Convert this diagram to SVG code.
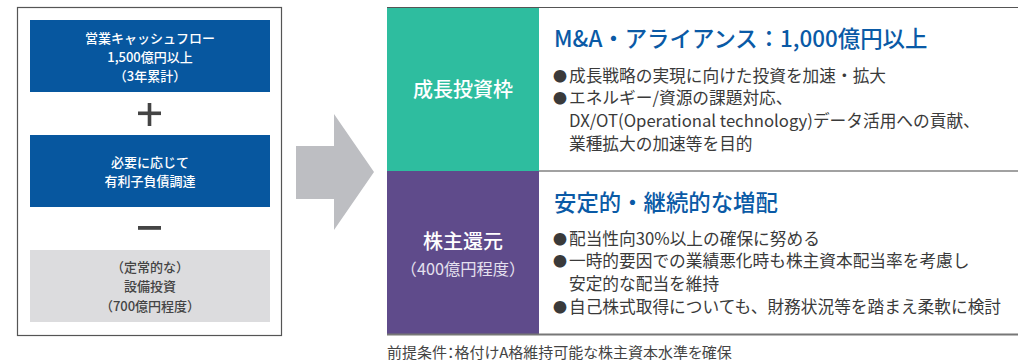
<svg xmlns="http://www.w3.org/2000/svg" width="1027" height="363" viewBox="0 0 1027 363">
<style>
text{font-family:"Noto Sans CJK JP","Noto Sans",sans-serif}
.lt{font-size:13px;font-weight:500;fill:#fff;text-anchor:middle}
.gt{font-size:13px;font-weight:500;fill:#444;text-anchor:middle}
.hd{font-size:22.4px;font-weight:500;fill:#0a5aa6}
.bl{font-size:16.7px;fill:#3a3a3a}
.dot{font-size:14px}
.cat{font-size:20px;font-weight:500;fill:#fff;text-anchor:middle}
</style>
<rect width="1027" height="363" fill="#fff"/>
<g id="left-panel">
<rect x="17.5" y="7.5" width="264" height="328" fill="#fff" stroke="#555" stroke-width="1.2"/>
</g>
<g id="cashflow">
<rect x="30" y="20" width="240" height="72" fill="#07579f"/>
<text class="lt" x="150" y="42.5">営業キャッシュフロー</text>
<text class="lt" x="150" y="61.5">1,500億円以上</text>
<text class="lt" x="150" y="80.5">（3年累計）</text>
</g>
<g id="plus">
<rect x="138" y="111.5" width="23" height="3.6" fill="#444"/>
<rect x="147.7" y="103" width="3.6" height="23" fill="#444"/>
</g>
<g id="debt">
<rect x="30" y="135" width="240" height="72" fill="#07579f"/>
<text class="lt" x="150" y="166.5">必要に応じて</text>
<text class="lt" x="150" y="185.5">有利子負債調達</text>
</g>
<g id="minus">
<rect x="138" y="226" width="23" height="3.8" fill="#444"/>
</g>
<g id="capex">
<rect x="30" y="250" width="240" height="72" fill="#dcdcde"/>
<text class="gt" x="150" y="271.5">（定常的な）</text>
<text class="gt" x="150" y="291">設備投資</text>
<text class="gt" x="150" y="310.5">（700億円程度）</text>
</g>
<g id="connectors">
<polygon points="296,146 334,146 334,114 374,172 334,230 334,199 296,199" fill="#bdbec2"/>
</g>
<g id="growth">
<rect x="387" y="8" width="152" height="163" fill="#2ebd9f"/>
<text class="cat" x="463" y="97">成長投資枠</text>
<text class="hd" x="554" y="47">M&amp;A・アライアンス：1,000億円以上</text>
<text class="bl" x="553" y="81.5"><tspan class="dot" dy="-0.8">●</tspan><tspan x="569" dy="0.8">成長戦略の実現に向けた投資を加速・拡大</tspan></text>
<text class="bl" x="553" y="104"><tspan class="dot" dy="-0.8">●</tspan><tspan x="569" dy="0.8">エネルギー/資源の課題対応、</tspan></text>
<text class="bl" x="569" y="127">DX/OT(Operational technology)データ活用への貢献、</text>
<text class="bl" x="569" y="150">業種拡大の加速等を目的</text>
</g>
<g id="shareholder">
<rect x="387" y="171" width="152" height="163" fill="#5f4b8b"/>
<text class="cat" x="463" y="248.5">株主還元</text>
<text x="463" y="275" style="font-size:16.3px;fill:#e4e0ee;text-anchor:middle">（400億円程度）</text>
<text class="hd" x="554" y="211">安定的・継続的な増配</text>
<text class="bl" x="553" y="245"><tspan class="dot" dy="-0.8">●</tspan><tspan x="569" dy="0.8">配当性向30%以上の確保に努める</tspan></text>
<text class="bl" x="553" y="267"><tspan class="dot" dy="-0.8">●</tspan><tspan x="569" dy="0.8">一時的要因での業績悪化時も株主資本配当率を考慮し</tspan></text>
<text class="bl" x="569" y="290">安定的な配当を維持</text>
<text class="bl" x="553" y="312.5"><tspan class="dot" dy="-0.8">●</tspan><tspan x="569" dy="0.8">自己株式取得についても、財務状況等を踏まえ柔軟に検討</tspan></text>
</g>
<g id="lines">
<line x1="387" y1="7.5" x2="1018" y2="7.5" stroke="#555" stroke-width="1.2"/>
<line x1="539" y1="171" x2="1018" y2="171" stroke="#444" stroke-width="1.2"/>
<line x1="387" y1="334.5" x2="1018" y2="334.5" stroke="#777" stroke-width="2"/>
</g>
<g id="footnote">
<text x="387" y="358" style="font-size:15px;fill:#444;font-feature-settings:'palt'">前提条件：格付けA格維持可能な株主資本水準を確保</text>
</g>
</svg>
